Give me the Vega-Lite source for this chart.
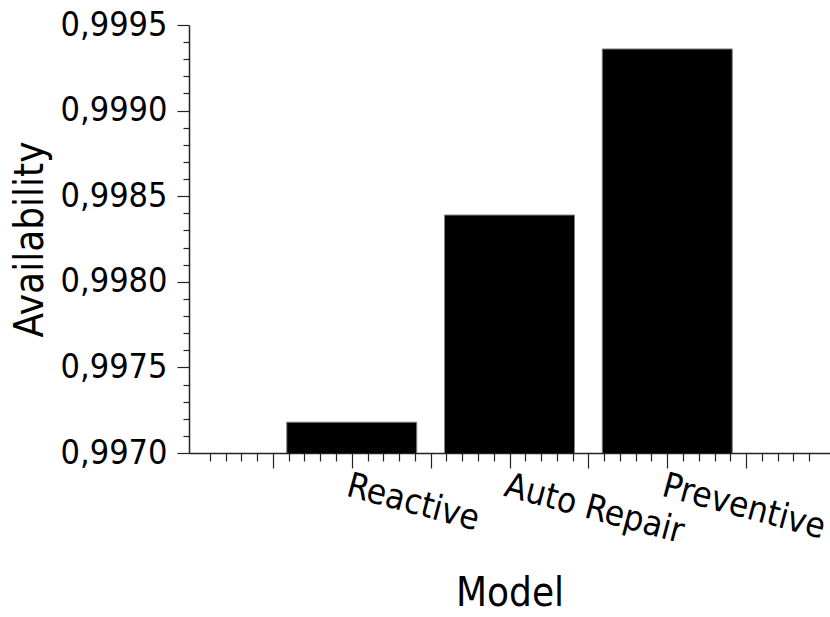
{
  "$schema": "https://vega.github.io/schema/vega-lite/v6.json",
  "width": 641,
  "height": 428,
  "autosize": {"type": "none"},
  "padding": {"left": 189, "top": 25, "right": 0, "bottom": 164},
  "config": {
    "font": "DejaVu Sans Condensed",
    "view": {"stroke": null},
    "locale": {
      "number": {"decimal": ",", "thousands": ".", "grouping": [3], "currency": ["", " €"]}
    }
  },
  "data": {
    "values": [
      {"Model": "Reactive", "Order": 1, "Availability": 0.99718},
      {"Model": "Auto Repair", "Order": 2, "Availability": 0.99839},
      {"Model": "Preventive", "Order": 3, "Availability": 0.99936}
    ]
  },
  "layer": [
    {
      "mark": {"type": "bar", "size": 130, "color": "#000000", "stroke": "#808080", "strokeWidth": 1, "clip": true},
      "encoding": {
        "x": {
          "field": "Order",
          "type": "quantitative",
          "title": "Model",
          "scale": {"domain": [0, 4], "nice": false, "zero": false},
          "axis": {
            "orient": "bottom",
            "values": [0.5, 1, 1.5, 2, 2.5, 3, 3.5],
            "labelExpr": "datum.value == 1 ? 'Reactive' : datum.value == 2 ? 'Auto Repair' : datum.value == 3 ? 'Preventive' : ''",
            "labelAngle": 15,
            "labelAlign": "left",
            "labelBaseline": "top",
            "labelFontSize": 35,
            "labelColor": "#000000",
            "labelPadding": 0,
            "labelDx": 3,
            "labelLimit": 0,
            "labelOverlap": false,
            "labelFlush": false,
            "labelBound": false,
            "tickSize": 15,
            "tickColor": "#222222",
            "tickWidth": 1.2,
            "domainColor": "#222222",
            "domainWidth": 1.5,
            "grid": false,
            "titleFontSize": 40,
            "titleFontWeight": "normal",
            "titleColor": "#000000",
            "titlePadding": 24
          }
        },
        "y": {
          "field": "Availability",
          "type": "quantitative",
          "title": "Availability",
          "scale": {"domain": [0.997, 0.9995], "nice": false, "zero": false},
          "axis": {
            "orient": "left",
            "values": [0.997, 0.9975, 0.998, 0.9985, 0.999, 0.9995],
            "format": ".4f",
            "labelFontSize": 34,
            "labelColor": "#000000",
            "labelPadding": 10,
            "labelFlush": false,
            "labelOverlap": false,
            "labelBound": false,
            "tickSize": 12,
            "tickColor": "#222222",
            "tickWidth": 1.2,
            "domainColor": "#222222",
            "domainWidth": 1.5,
            "grid": false,
            "titleFontSize": 40,
            "titleFontWeight": "normal",
            "titleColor": "#000000",
            "titlePadding": 10
          }
        }
      }
    },
    {
      "mark": {"type": "bar", "size": 130, "opacity": 0, "clip": true},
      "encoding": {
        "x": {
          "field": "Order",
          "type": "quantitative",
          "axis": {
            "orient": "bottom",
            "title": null,
            "labels": false,
            "domain": false,
            "grid": false,
            "values": [0.1, 0.2, 0.3, 0.4, 0.6, 0.7, 0.8, 0.9, 1.1, 1.2, 1.3, 1.4, 1.6, 1.7, 1.8, 1.9, 2.1, 2.2, 2.3, 2.4, 2.6, 2.7, 2.8, 2.9, 3.1, 3.2, 3.3, 3.4, 3.6, 3.7, 3.8, 3.9],
            "tickSize": 8,
            "tickColor": "#222222",
            "tickWidth": 1.2
          }
        },
        "y": {
          "field": "Availability",
          "type": "quantitative",
          "axis": {
            "orient": "left",
            "title": null,
            "labels": false,
            "domain": false,
            "grid": false,
            "values": [0.9971, 0.9972, 0.9973, 0.9974, 0.9976, 0.9977, 0.9978, 0.9979, 0.9981, 0.9982, 0.9983, 0.9984, 0.9986, 0.9987, 0.9988, 0.9989, 0.9991, 0.9992, 0.9993, 0.9994],
            "tickSize": 6,
            "tickColor": "#222222",
            "tickWidth": 1.2
          }
        }
      }
    }
  ],
  "resolve": {"axis": {"x": "independent", "y": "independent"}}
}
